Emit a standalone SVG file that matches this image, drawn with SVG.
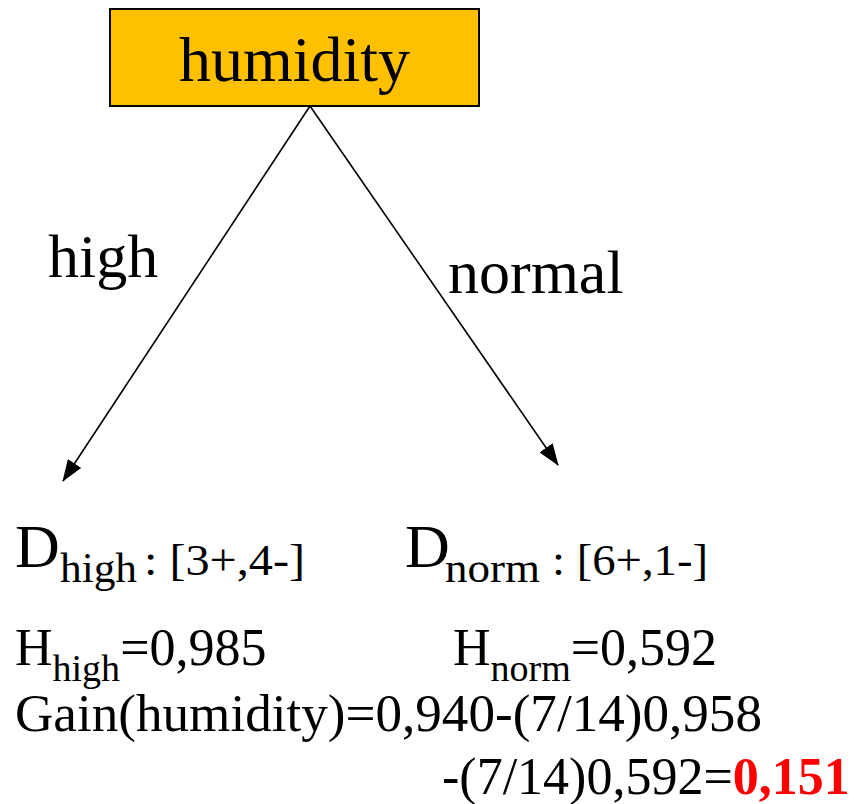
<svg xmlns="http://www.w3.org/2000/svg" width="859" height="804" viewBox="0 0 859 804">
<style>
.lbl{font-family:"Liberation Serif","Times New Roman",serif;fill:#000}
.edge{stroke:#000;stroke-width:1.6;fill:none}
.red{fill:#FF0000;font-weight:bold}
</style>
<defs>
<marker id="ah" markerUnits="userSpaceOnUse" markerWidth="22" markerHeight="16" refX="21" refY="8" orient="auto">
<path d="M0,0 L22,8 L0,16 z" fill="#000"/>
</marker>
</defs>
<g class="lbl" font-family="Liberation Serif">
<g id="root">
<rect x="110" y="9" width="369" height="97" fill="#FFC000" stroke="#000" stroke-width="2"/>
<text x="294.5" y="81" font-size="64" text-anchor="middle">humidity</text>
</g>
<g id="connectors">
<line class="edge" x1="310" y1="106" x2="63" y2="481" marker-end="url(#ah)"/>
<line class="edge" x1="310" y1="106" x2="558" y2="465" marker-end="url(#ah)"/>
<text font-size="62" x="48" y="277">high</text>
<text font-size="62" x="448" y="293">normal</text>
</g>
<g id="d-high">
<text font-size="62" x="15" y="567">D</text>
<text font-size="42" x="60" y="582" textLength="77" lengthAdjust="spacingAndGlyphs">high</text>
<text font-size="44" x="144" y="575" textLength="161" lengthAdjust="spacingAndGlyphs">: [3+,4-]</text>
</g>
<g id="d-norm">
<text font-size="62" x="405" y="567">D</text>
<text font-size="42" x="445" y="582" textLength="95" lengthAdjust="spacingAndGlyphs">norm</text>
<text font-size="44" x="552" y="575" textLength="156" lengthAdjust="spacingAndGlyphs">: [6+,1-]</text>
</g>
<g id="formulas" font-size="52">
<text x="15" y="665">H<tspan font-size="38" dy="16">high</tspan><tspan dy="-16">=0,985</tspan></text>
<text x="453" y="665">H<tspan font-size="38" dy="16">norm</tspan><tspan dy="-16">=0,592</tspan></text>
<text x="15" y="731" textLength="747" lengthAdjust="spacingAndGlyphs">Gain(humidity)=0,940-(7/14)0,958</text>
<text x="442" y="794">-(7/14)0,592=<tspan class="red">0,151</tspan></text>
</g>
</g>
</svg>
